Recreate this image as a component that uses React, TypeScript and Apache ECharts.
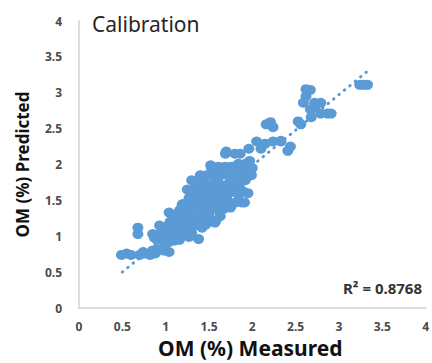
import React, { useEffect, useRef } from "react";
import * as echarts from "echarts";

const measured: number[] = [
  0.49, 0.55, 0.6, 0.7, 0.76, 0.82, 0.85, 0.92, 0.98, 1.04, 0.88, 0.74,
  0.68, 0.68,
  0.85, 0.93, 0.87, 0.9, 0.97, 1.04, 1.1, 1.16, 1.0, 1.08, 1.19, 0.93, 1.04, 1.12, 1.27, 1.38, 1.3, 1.24, 1.35, 1.42, 1.15, 1.2, 1.0, 1.05,
  1.08, 1.16, 1.04, 1.19, 1.3, 1.27, 1.35, 1.25, 1.4, 1.45, 1.5, 1.32, 1.22, 1.46, 1.58, 1.55, 1.48, 1.4, 1.5, 1.38, 1.28, 1.43,
  1.27, 1.36, 1.46, 1.58, 1.61, 1.73, 1.84, 1.81, 1.88, 1.3, 1.38, 1.45, 1.42, 1.58, 1.73, 1.81, 1.55, 1.65, 1.7, 1.52, 1.6, 1.67, 1.75,
  1.65, 1.8, 1.95, 1.91, 1.72, 1.57,
  1.53, 1.61, 1.69, 1.76, 1.84, 1.92, 1.96, 1.99, 1.88, 1.78, 1.52, 1.58, 1.69, 1.81,
  1.69, 1.7, 1.86, 1.96, 2.05, 2.15, 2.24, 2.33, 2.41, 2.1, 1.8,
  2.16, 2.21, 2.24, 2.33, 2.44,
  2.53, 2.56, 2.59, 2.62, 2.62, 2.67, 2.72, 2.79, 2.67, 2.72, 2.79, 2.87, 2.91, 2.68, 3.24, 3.33, 3.28,
  0.95, 1.0, 1.05, 1.1, 1.12, 0.98,
  1.15, 1.18, 1.22, 1.25, 1.28, 1.3, 1.2, 1.33, 1.25, 1.35,
  1.35, 1.4, 1.42, 1.45, 1.48, 1.38, 1.44, 1.5, 1.52, 1.47, 1.4,
  1.55, 1.58, 1.6, 1.62, 1.65, 1.66, 1.55, 1.63,
  1.7, 1.75, 1.72, 1.78, 1.85, 1.9, 1.92, 1.88,
  2.0, 1.97,
];
const predicted: number[] = [
  0.74, 0.76, 0.74, 0.74, 0.76, 0.74, 0.8, 0.82, 0.8, 0.78, 0.76, 0.78,
  1.12, 1.03,
  1.03, 1.03, 0.98, 0.95, 0.96, 0.92, 0.94, 0.95, 1.0, 1.08, 1.1, 1.15, 1.16, 1.12, 0.99, 0.96, 1.05, 1.23, 1.26, 1.12, 1.2, 1.05, 1.1, 1.02,
  1.3, 1.36, 1.33, 1.44, 1.42, 1.53, 1.56, 1.4, 1.45, 1.35, 1.3, 1.3, 1.28, 1.16, 1.22, 1.4, 1.55, 1.62, 1.48, 1.38, 1.2, 1.25,
  1.64, 1.64, 1.67, 1.7, 1.58, 1.6, 1.58, 1.47, 1.47, 1.78, 1.78, 1.76, 1.78, 1.77, 1.74, 1.77, 1.6, 1.5, 1.68, 1.72, 1.45, 1.38, 1.4,
  1.71, 1.67, 1.6, 1.47, 1.49, 1.19,
  1.95, 1.97, 1.97, 1.97, 2.01, 2.01, 1.92, 1.85, 1.85, 1.9, 1.99, 1.9, 1.92, 1.95,
  2.15, 2.18, 2.15, 2.22, 2.32, 2.29, 2.32, 2.32, 2.19, 2.22, 2.15,
  2.56, 2.59, 2.52, 2.33, 2.25,
  2.6, 2.56, 2.86, 2.95, 3.05, 3.04, 2.86, 2.86, 2.77, 2.79, 2.71, 2.71, 2.71, 2.66, 3.11, 3.11, 3.11,
  1.05, 0.9, 1.2, 1.0, 1.25, 1.08,
  1.05, 1.15, 1.35, 1.1, 1.5, 1.6, 1.45, 1.15, 1.65, 1.7,
  1.45, 1.55, 1.68, 1.5, 1.62, 1.22, 1.42, 1.2, 1.38, 1.85, 1.85,
  1.52, 1.65, 1.8, 1.35, 1.6, 1.86, 1.85, 1.28,
  1.55, 1.8, 1.45, 1.65, 1.7, 1.62, 1.78, 1.92,
  1.95, 2.05,
];
const trendX: number[] = [0.5, 3.35];
const trendY: number[] = [0.5, 3.32];
const tickValues: number[] = [0, 0.5, 1, 1.5, 2, 2.5, 3, 3.5, 4];
const r2Text = "R² = 0.8768";
const titleText = "Calibration";
const xTitle = "OM (%) Measured";
const yTitle = "OM (%) Predicted";

export default function App() {
  const ref = useRef<HTMLDivElement>(null);
  useEffect(() => {
    if (!ref.current) return;
    const chart = echarts.init(ref.current, null, { renderer: "svg" });
    const pts = measured.map((m, i) => [m, predicted[i]]);
    const trend = trendX.map((x, i) => [x, trendY[i]]);
    const labelStyle = {
      color: "#4a4a4a",
      fontWeight: "bold" as const,
      fontSize: 12,
      fontFamily: "Noto Sans",
      formatter: (v: number) => (tickValues.includes(v) ? String(v) : ""),
    };
    chart.setOption({
      animation: false,
      backgroundColor: "#ffffff",
      grid: { left: 79, right: 3, top: 21, bottom: 52 },
      xAxis: {
        type: "value",
        min: 0,
        max: 4,
        interval: 0.5,
        axisLine: { show: true, lineStyle: { color: "#d0d0d0", width: 1.5 } },
        axisTick: { show: false },
        splitLine: { show: false },
        axisLabel: { ...labelStyle, margin: 12 },
        name: xTitle,
        nameLocation: "middle",
        nameGap: 29,
        nameTextStyle: { color: "#111", fontWeight: "bold", fontSize: 21, fontFamily: "Noto Sans", padding: [0, 4, 0, 0] },
      },
      yAxis: {
        type: "value",
        min: 0,
        max: 4,
        interval: 0.5,
        axisLine: { show: true, lineStyle: { color: "#d0d0d0", width: 1.5 } },
        axisTick: { show: false },
        splitLine: { show: false },
        axisLabel: { ...labelStyle, margin: 17 },
        name: yTitle,
        nameLocation: "middle",
        nameGap: 48,
        nameTextStyle: { color: "#111", fontWeight: "bold", fontSize: 17, fontFamily: "Noto Sans" },
      },
      graphic: [
        {
          type: "text",
          left: 92,
          top: 13,
          style: { text: titleText, fontSize: 21, fill: "#262626", fontFamily: "Noto Sans" },
        },
        {
          type: "text",
          left: 343,
          top: 280,
          style: { text: r2Text, fontSize: 15, fontWeight: "bold", fill: "#333333", fontFamily: "Noto Sans" },
        },
      ],
      series: [
        {
          type: "scatter",
          data: pts,
          symbol: "circle",
          symbolSize: [11, 10],
          itemStyle: { color: "#5b9bd5", opacity: 1 },
          z: 2,
        },
        {
          type: "line",
          data: trend,
          symbol: "none",
          lineStyle: { color: "#5b9bd5", width: 3, type: [0.5, 6.5], cap: "round" },
          z: 3,
        },
      ],
    });
    return () => chart.dispose();
  }, []);
  return (
    <div
      ref={ref}
      style={{ position: "fixed", left: 0, top: 0, width: 432, height: 363 }}
    />
  );
}
